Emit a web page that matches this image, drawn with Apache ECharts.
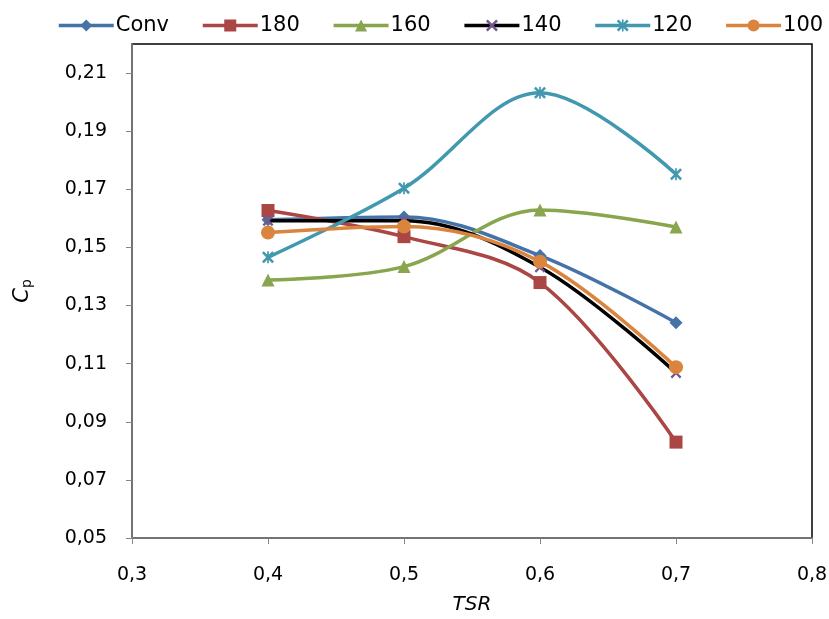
<!DOCTYPE html>
<html>
<head>
<meta charset="utf-8">
<script src="https://cdn.jsdelivr.net/npm/echarts@6/dist/echarts.min.js"></script>
<style>
html,body{margin:0;padding:0;background:#fff;}
#c{width:829px;height:619px;}
</style>
</head>
<body>
<div id="c"></div>
<script>
const tsr = [0.4, 0.5, 0.6, 0.7];
const seriesNames = ['Conv', '180', '160', '140', '120', '100'];
const conv = [0.1595, 0.1605, 0.1472, 0.1241];
const s180 = [0.1627, 0.1537, 0.1379, 0.0830];
const s160 = [0.1388, 0.1434, 0.1629, 0.1570];
const s140 = [0.1592, 0.1592, 0.1432, 0.1068];
const s120 = [0.1466, 0.1704, 0.2032, 0.1752];
const s100 = [0.1551, 0.1572, 0.1451, 0.1088];
const yTicks = [0.05, 0.07, 0.09, 0.11, 0.13, 0.15, 0.17, 0.19, 0.21];
const xTicks = [0.3, 0.4, 0.5, 0.6, 0.7, 0.8];

const FONT = 'DejaVu Sans';
const X_PATH = 'path://M0,1.5L1.5,0L5,3.5L8.5,0L10,1.5L6.5,5L10,8.5L8.5,10L5,6.5L1.5,10L0,8.5L3.5,5Z';
const AST_PATH = 'path://M0,1.5L1.5,0L5,3.5L8.5,0L10,1.5L6.5,5L10,8.5L8.5,10L5,6.5L1.5,10L0,8.5L3.5,5Z M4.3,0L5.7,0L5.7,10L4.3,10Z';

function pairs(vals){ return tsr.map((x,i)=>[x, vals[i]]); }

const defs = [
  {vals: conv, color:'#4572A7', line:'#4572A7', symbol:'diamond', size:13},
  {vals: s180, color:'#AA4643', line:'#AA4643', symbol:'rect', size:13},
  {vals: s160, color:'#89A54E', line:'#89A54E', symbol:'triangle', size:13},
  {vals: s140, color:'#71588F', line:'#000000', symbol:X_PATH, size:11},
  {vals: s120, color:'#4198AF', line:'#4198AF', symbol:AST_PATH, size:12},
  {vals: s100, color:'#DB843D', line:'#DB843D', symbol:'circle', size:14}
];

const chart = echarts.init(document.getElementById('c'), null, {renderer:'canvas'});
chart.setOption({
  animation: false,
  backgroundColor: '#ffffff',
  legend: {
    top: 15,
    left: 57,
    width: 772,
    padding: 0,
    itemWidth: 55,
    itemHeight: 15,
    itemGap: 32,
    lineStyle: {width: 3.5},
    textStyle: {fontFamily: FONT, fontSize: 21, color: '#000', padding: [0,0,0,-3]},
    data: seriesNames
  },
  grid: {
    left: 132, right: 17, top: 44, bottom: 81,
    containLabel: false, outerBoundsMode: 'none',
    show: true, borderColor: '#000', borderWidth: 1.5, backgroundColor: 'transparent'
  },
  xAxis: {
    type: 'value', min: 0.3, max: 0.8, interval: 0.1,
    name: 'TSR', nameLocation: 'middle', nameGap: 57,
    nameTextStyle: {fontFamily: FONT, fontSize: 20, fontStyle: 'italic', color: '#000'},
    axisLine: {show: true, lineStyle: {color: '#868686', width: 1.5}},
    axisTick: {show: true, inside: false, length: 6, lineStyle: {color: '#868686'}},
    splitLine: {show: false},
    axisLabel: {
      fontFamily: FONT, fontSize: 19, color: '#000', margin: 28,
      formatter: v => v.toFixed(1).replace('.', ',')
    }
  },
  yAxis: {
    type: 'value', min: 0.05, max: 0.22,
    name: '{a|C}{b|p}', nameLocation: 'middle', nameGap: 98, nameRotate: 90,
    nameTextStyle: {
      rich: {
        a: {fontFamily: FONT, fontSize: 21, fontStyle: 'italic', color: '#000'},
        b: {fontFamily: FONT, fontSize: 14, color: '#000', verticalAlign: 'bottom', padding: [8,0,0,0]}
      }
    },
    axisLine: {show: true, lineStyle: {color: '#868686', width: 1.5}},
    axisTick: {show: true, inside: false, length: 6, lineStyle: {color: '#868686'}, customValues: yTicks},
    splitLine: {show: false},
    axisLabel: {
      fontFamily: FONT, fontSize: 19, color: '#000', margin: 25,
      customValues: yTicks,
      formatter: v => v.toFixed(2).replace('.', ',')
    }
  },
  series: defs.map((d, i) => ({
    name: seriesNames[i],
    type: 'line',
    smooth: 0.35,
    data: pairs(d.vals),
    symbol: d.symbol,
    symbolSize: d.size,
    showAllSymbol: true,
    itemStyle: {color: d.color, borderColor: d.color, borderWidth: 0},
    lineStyle: {color: d.line, width: 3.5},
    z: 2 + i
  }))
});
</script>
</body>
</html>
